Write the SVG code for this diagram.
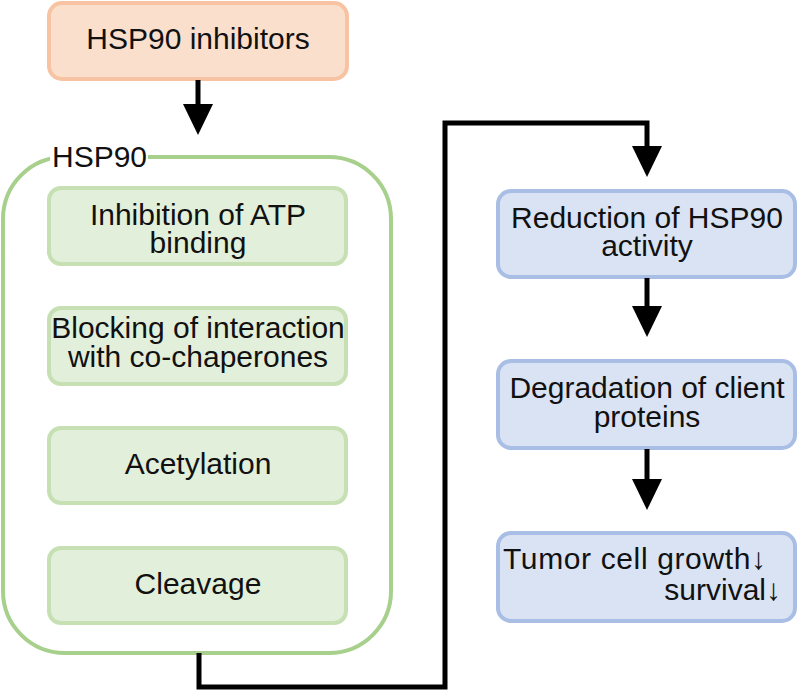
<svg xmlns="http://www.w3.org/2000/svg" width="799" height="692" viewBox="0 0 799 692">
<style>
text{font-family:"Liberation Sans",Arial,sans-serif;font-size:30px;fill:#111;text-anchor:middle}
.arr{font-weight:bold}
.orange{fill:#fbdfcd;stroke:#f7c3a3;stroke-width:4}
.green{fill:#e2efda;stroke:#c6e0b4;stroke-width:4}
.blue{fill:#dae3f3;stroke:#a9bee5;stroke-width:4}
.cont{fill:none;stroke:#a8d08d;stroke-width:4}
.conn{fill:none;stroke:#000;stroke-width:5}
.head{fill:#000}
</style>
<defs>
<path id="ah" d="M-15,0 L15,0 L0,31 Z"/>
</defs>
<g id="inhibitors">
<rect class="orange" x="49" y="3" width="298" height="76" rx="13"/>
<text x="198" y="49">HSP90 inhibitors</text>
</g>
<g id="hsp90">
<rect class="cont" x="3" y="157" width="388" height="496" rx="62"/>
<rect x="50" y="150" width="98" height="16" fill="#fff"/>
<text x="52" y="167" style="text-anchor:start">HSP90</text>
</g>
<g id="atp">
<rect class="green" x="49" y="188" width="297" height="76" rx="12"/>
<text x="198" y="225">Inhibition of ATP</text>
<text x="198" y="253">binding</text>
</g>
<g id="blocking">
<rect class="green" x="49" y="308" width="297" height="76" rx="12"/>
<text x="198" y="338">Blocking of interaction</text>
<text x="198" y="367">with co-chaperones</text>
</g>
<g id="acetylation">
<rect class="green" x="49" y="428" width="297" height="75" rx="12"/>
<text x="198" y="474">Acetylation</text>
</g>
<g id="cleavage">
<rect class="green" x="49" y="548" width="297" height="75" rx="12"/>
<text x="198" y="594">Cleavage</text>
</g>
<g id="reduction">
<rect class="blue" x="498" y="191" width="297" height="86" rx="13"/>
<text x="647" y="228">Reduction of HSP90</text>
<text x="647" y="256">activity</text>
</g>
<g id="degradation">
<rect class="blue" x="498" y="361" width="297" height="87" rx="13"/>
<text x="647" y="398">Degradation of client</text>
<text x="647" y="427">proteins</text>
</g>
<g id="tumor">
<rect class="blue" x="498" y="533" width="297" height="88" rx="13"/>
<text x="503" y="569" style="text-anchor:start" textLength="263" lengthAdjust="spacing">Tumor cell growth<tspan class="arr">↓</tspan></text>
<text x="781" y="600" style="text-anchor:end">survival<tspan class="arr">↓</tspan></text>
</g>
<g id="connectors">
<path class="conn" d="M198,80 V106"/>
<use href="#ah" class="head" x="198" y="104"/>
<path class="conn" d="M199,653 V687 H445 V123 H647 V147"/>
<use href="#ah" class="head" x="647" y="146"/>
<path class="conn" d="M647,278 V307"/>
<use href="#ah" class="head" x="647" y="306"/>
<path class="conn" d="M647,449 V480"/>
<use href="#ah" class="head" x="647" y="479"/>
</g>
</svg>
